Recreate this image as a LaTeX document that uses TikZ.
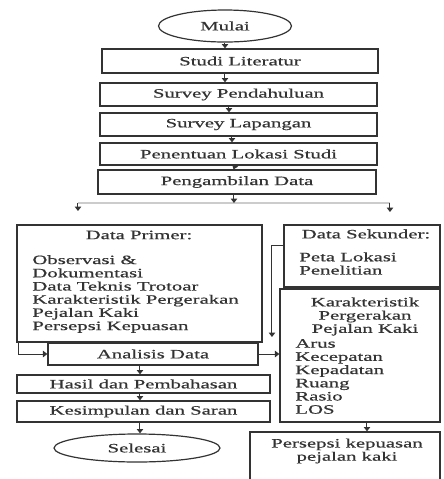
\documentclass[tikz,border=0pt]{standalone}
\usepackage{fontspec}
\usepackage{tikz}
\usetikzlibrary{shapes.geometric,arrows.meta}
\newfontfamily\flowfont{Liberation Serif}[FakeStretch=1.62, FakeBold=0.6]
\definecolor{ink}{gray}{0.2}
\definecolor{faint}{gray}{0.8}
\tikzset{
	box/.style={draw=ink, line width=0.6pt, inner sep=0pt, text=ink,
		font={\flowfont\fontsize{6.4}{6.6}\selectfont}},
	oval/.style={box, ellipse},
	txt/.style={inner sep=0pt, text=ink,
		font={\flowfont\fontsize{6.4}{6.6}\selectfont}},
	arr/.style={draw=ink, line width=0.5pt, -{Triangle[length=2.2pt,width=3.2pt]}}
}

\begin{document}
\begin{tikzpicture}[x=0.5pt, y=-0.5pt]
		\useasboundingbox (0, 0) rectangle (444, 479);
		% main column
		\node[oval, minimum width=66.5pt, minimum height=16pt] (mulai) at (225, 26) {Mulai};
		\node[box, minimum width=138pt, minimum height=12pt] (studi) at (240, 61) {Studi Literatur};
		\node[box, minimum width=138.5pt, minimum height=11.5pt] (pendahuluan) at (238.5, 94.5) {Survey Pendahuluan};
		\node[box, minimum width=138.5pt, minimum height=11.5pt] (lapangan) at (238.5, 124.5) {Survey Lapangan};
		\node[box, minimum width=138.5pt, minimum height=11pt] (penentuan) at (238.5, 154) {Penentuan Lokasi Studi};
		\node[box, minimum width=139pt, minimum height=12pt] (pengambilan) at (237, 182) {Pengambilan Data};
		\draw[arr] (mulai.south) -- (mulai.south |- studi.north);
		\draw[arr] (studi.south -| mulai) -- (pendahuluan.north -| mulai);
		\draw[arr] ([xshift=-4.75pt]pendahuluan.south) -- ([xshift=-4.75pt]lapangan.north);
		\draw[arr] ([xshift=-3.25pt]lapangan.south) -- ([xshift=-3.25pt]penentuan.north);
		\draw[arr] ([xshift=-1.75pt]penentuan.south) -- ([xshift=-1.75pt]pengambilan.north);
		% split into the two kinds of data
		\coordinate (split) at (234, 203);
		\coordinate (splitl) at (78, 203);
		\coordinate (splitr) at (390, 203);
		\coordinate (dropl) at (78, 211);
		\coordinate (dropr) at (390, 212);
		\draw[faint, line width=0.6pt] (splitl) -- (splitr);
		\draw[arr] (pengambilan.south -| split) -- (split);
		\draw[arr] (splitl) -- (dropl);
		\draw[arr] (splitr) -- (dropr);
		% part for data primer
		\node[box, minimum width=122.5pt, minimum height=58.5pt] (primer) at (139.5, 283.5) {};
		\node[txt] (primerhead) at (139, 235) {Data Primer:};
		\node[txt, align=left, anchor=west] (primeritems) at (32, 294) {Observasi \&\\Dokumentasi\\Data Teknis Trotoar\\Karakteristik Pergerakan\\Pejalan Kaki\\Persepsi Kepuasan};
		% part for data sekunder
		\node[box, minimum width=78pt, minimum height=31pt] (sekunder) at (362, 256) {};
		\node[txt] (sekunderhead) at (366, 234) {Data Sekunder:};
		\node[txt, align=left, anchor=west] (sekunderitems) at (299, 263.5) {Peta Lokasi\\Penelitian};
		% part for karakteristik
		\node[box, minimum width=80pt, minimum height=66.5pt] (karakter) at (360, 355.5) {};
		\node[txt, align=center] (karakterhead) at (365, 316.5) {Karakteristik\\Pergerakan\\Pejalan Kaki};
		\node[txt, align=left, anchor=west] (karakteritems) at (295, 376.5) {Arus\\Kecepatan\\Kepadatan\\Ruang\\Rasio\\LOS};
		\node[box, minimum width=95pt, minimum height=25pt] (persepsi) at (345, 457) {};
		\node[txt, align=center] (persepsitext) at (347, 451) {Persepsi kepuasan\\pejalan kaki};
		% lower column
		\node[box, minimum width=105pt, minimum height=11pt] (analisis) at (153, 354) {Analisis Data};
		\node[box, minimum width=126.5pt, minimum height=9pt] (hasil) at (143.5, 384) {Hasil dan Pembahasan};
		\node[box, minimum width=126.5pt, minimum height=10.5pt] (kesimpulan) at (143.5, 411.5) {Kesimpulan dan Saran};
		\node[oval, minimum width=83pt, minimum height=14pt] (selesai) at (137, 448) {Selesai};
		\coordinate (lower) at (140, 0);
		\coordinate (sekdrop) at (272, 337);
		\draw[arr] ([xshift=1pt]primer.south west) |- (analisis.west);
		\draw[arr] ([yshift=5.5pt]sekunder.west) -| (sekdrop);
		\draw[arr] (analisis.east) -- (analisis.east -| karakter.west);
		\draw[arr] (analisis.south -| lower) -- (hasil.north -| lower);
		\draw[arr] (hasil.south -| lower) -- (kesimpulan.north -| lower);
		\draw[arr] (kesimpulan.south -| lower) -- (selesai.north -| lower);
		\draw[arr] ([xshift=3.5pt]karakter.south) -- ([xshift=3.5pt]karakter.south |- persepsi.north);
	\end{tikzpicture}
\end{document}
